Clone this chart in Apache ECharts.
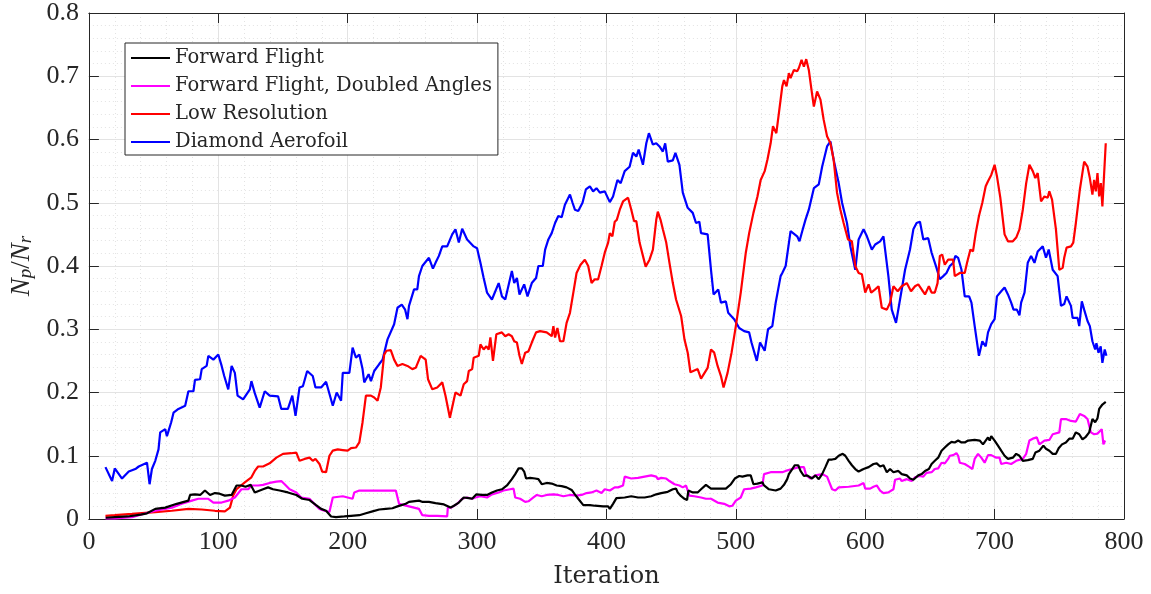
<!DOCTYPE html>
<html>
<head>
<meta charset="utf-8">
<script src="https://cdn.jsdelivr.net/npm/echarts@6/dist/echarts.min.js"></script>
<style>
  html, body { margin: 0; padding: 0; background: #ffffff; }
  #chart { width: 1151px; height: 594px; }
</style>
</head>
<body>
<div id="chart"></div>
<script>
// Axis ranges and ticks
const xTicks = [0, 100, 200, 300, 400, 500, 600, 700, 800];
const yTicks = [0, 0.1, 0.2, 0.3, 0.4, 0.5, 0.6, 0.7, 0.8];
const seriesNames = ['Forward Flight', 'Forward Flight, Doubled Angles', 'Low Resolution', 'Diamond Aerofoil'];

// [iteration, Np/Nr]
const forwardFlight = [[13,0.002],[20,0.003],[30,0.004],[40,0.007],[44.9,0.009],[51.3,0.016],[59,0.018],[67.9,0.024],[76.9,0.029],[78.2,0.038],[82,0.039],[86,0.038],[89.7,0.045],[93.6,0.038],[97.4,0.041],[101,0.040],[105.1,0.037],[110.3,0.038],[114.1,0.053],[117.9,0.053],[121,0.051],[125,0.054],[128.2,0.042],[134.6,0.047],[138.5,0.050],[142.3,0.047],[147.4,0.045],[153.8,0.042],[160.3,0.038],[164.9,0.032],[170.5,0.030],[175.6,0.022],[179.5,0.016],[183.3,0.013],[187.2,0.004],[191,0.003],[197.4,0.004],[202.6,0.005],[209,0.006],[214.1,0.009],[219.2,0.012],[224.4,0.015],[229.5,0.016],[234.6,0.017],[238.5,0.020],[244.9,0.024],[247.4,0.027],[255.1,0.029],[258,0.027],[262.8,0.027],[267.9,0.025],[274.4,0.023],[279.5,0.018],[282.1,0.021],[285.9,0.026],[289.7,0.034],[293.6,0.033],[296.2,0.032],[299.5,0.039],[303.8,0.038],[307.7,0.038],[311.5,0.042],[315.4,0.045],[319.2,0.047],[323.1,0.053],[326.9,0.063],[329.5,0.071],[332.1,0.080],[334.6,0.080],[336.4,0.075],[337.9,0.064],[341,0.065],[344.9,0.064],[347.4,0.063],[350,0.055],[353.8,0.057],[357.7,0.056],[361.5,0.053],[365.4,0.052],[369.2,0.050],[373.1,0.046],[375.6,0.039],[378.2,0.032],[382.1,0.022],[387.2,0.022],[391,0.021],[397.4,0.020],[401.3,0.020],[402.6,0.016],[405.1,0.024],[407.7,0.033],[409,0.032],[414.1,0.034],[419.2,0.036],[424.4,0.034],[429.5,0.034],[434.6,0.036],[438.5,0.039],[442.3,0.041],[447.4,0.043],[451.3,0.047],[453.8,0.048],[455.1,0.042],[457.7,0.036],[460.3,0.032],[462.3,0.030],[463.3,0.045],[466.7,0.042],[470.5,0.042],[473.1,0.047],[476.9,0.054],[480.8,0.048],[485.9,0.048],[492.3,0.048],[496.2,0.055],[499.2,0.064],[502.6,0.068],[505.1,0.067],[509,0.069],[511.5,0.069],[513.6,0.055],[516.7,0.056],[520.5,0.058],[521.8,0.053],[525.6,0.047],[530.8,0.045],[534.6,0.048],[537.2,0.054],[539.7,0.063],[541,0.071],[543.6,0.079],[545.6,0.085],[548.2,0.085],[550,0.076],[552.6,0.068],[555.1,0.069],[558.9,0.064],[561.5,0.069],[564.1,0.063],[566.7,0.071],[569.2,0.082],[571.8,0.094],[574.4,0.094],[576.9,0.095],[579.5,0.100],[582.6,0.103],[584.6,0.100],[587.2,0.092],[589.7,0.085],[592.3,0.079],[594.9,0.075],[598.7,0.079],[602.6,0.082],[606.4,0.087],[608.9,0.088],[611.5,0.083],[614.1,0.085],[616.7,0.074],[619.2,0.079],[621.8,0.074],[625.6,0.076],[628.2,0.071],[632.1,0.069],[634.6,0.064],[637.2,0.062],[641,0.069],[643.6,0.071],[646.2,0.076],[649.2,0.079],[651.3,0.087],[653.8,0.092],[656.4,0.097],[659,0.108],[661.5,0.113],[664.1,0.118],[666.7,0.122],[669.2,0.121],[671.8,0.124],[674.4,0.121],[676.9,0.121],[679.5,0.124],[684.6,0.125],[688.5,0.124],[691,0.118],[694.9,0.129],[696.2,0.124],[697.4,0.131],[700,0.124],[702.6,0.116],[705.1,0.108],[707.7,0.100],[710.3,0.095],[714.1,0.097],[716.7,0.103],[719.2,0.100],[721.8,0.092],[725.6,0.093],[729.5,0.095],[731.5,0.105],[734.6,0.108],[737.7,0.116],[739.7,0.111],[742.3,0.108],[744.9,0.103],[747.4,0.103],[749.5,0.112],[752.1,0.118],[755.1,0.121],[757.7,0.127],[760.3,0.127],[762.8,0.137],[765.4,0.134],[767.9,0.126],[770.5,0.130],[773.1,0.137],[775.6,0.158],[777.7,0.153],[779.5,0.159],[780.8,0.174],[783.3,0.181],[785.9,0.185]];

const doubledAngles = [[12.8,0.001],[20,0.001],[33.3,0.003],[42,0.008],[51.3,0.013],[64.1,0.018],[71.8,0.024],[79.5,0.029],[84.6,0.032],[92.3,0.032],[96.2,0.026],[102.6,0.026],[107.7,0.029],[112.8,0.034],[117.9,0.047],[123.1,0.047],[125.6,0.053],[130.8,0.053],[134.6,0.054],[139.7,0.057],[144.9,0.059],[148.7,0.060],[151.3,0.055],[155.1,0.047],[160.3,0.042],[164.1,0.034],[170.5,0.032],[175.6,0.021],[178.2,0.016],[182.1,0.013],[185.9,0.011],[188.5,0.034],[189.7,0.037],[196.2,0.036],[200,0.034],[203.8,0.032],[205.1,0.042],[209,0.045],[216.7,0.045],[224.4,0.045],[232.1,0.045],[237.2,0.045],[239.7,0.024],[247.4,0.020],[255.1,0.016],[257.7,0.006],[262.8,0.005],[269.2,0.005],[276.9,0.004],[277.4,0.018],[280,0.018],[284.6,0.024],[288.5,0.032],[292.3,0.034],[296.2,0.032],[298.7,0.034],[302.6,0.036],[307.7,0.034],[311.5,0.039],[316.7,0.042],[320.5,0.045],[325.6,0.047],[328.2,0.048],[329.5,0.034],[333.3,0.032],[337.2,0.027],[339.7,0.028],[343.6,0.034],[346.2,0.038],[350,0.036],[353.8,0.038],[359,0.039],[362.8,0.038],[366.7,0.036],[371.8,0.038],[376.9,0.037],[380.8,0.038],[384.6,0.041],[388.5,0.042],[392.3,0.045],[396.2,0.041],[398.7,0.047],[402.6,0.045],[406.4,0.050],[409,0.050],[412.8,0.053],[414.1,0.067],[419.2,0.064],[424.4,0.065],[429.5,0.067],[434.6,0.069],[438.5,0.067],[439.7,0.063],[442.3,0.065],[446.2,0.064],[448.7,0.060],[452.6,0.055],[456.4,0.053],[459,0.050],[461.5,0.053],[464.1,0.037],[467.9,0.036],[473.1,0.034],[476.9,0.032],[480.8,0.032],[485.9,0.026],[491,0.024],[494.9,0.020],[497.4,0.021],[500,0.029],[503.8,0.034],[506.4,0.047],[511.5,0.048],[515.4,0.050],[520.5,0.053],[521.8,0.071],[526.9,0.074],[532.1,0.074],[535.9,0.074],[538.5,0.076],[543.6,0.079],[548.7,0.082],[552.6,0.082],[554.4,0.069],[557.7,0.064],[561.5,0.069],[566.7,0.071],[570.5,0.067],[574.4,0.047],[576.9,0.045],[579.5,0.050],[587.2,0.051],[594.9,0.053],[598.7,0.057],[600,0.048],[603.8,0.048],[606.4,0.051],[608.9,0.053],[611.5,0.045],[614.1,0.041],[617.9,0.042],[621.8,0.047],[623.1,0.062],[626.9,0.064],[628.2,0.060],[632.1,0.063],[635.9,0.060],[638.5,0.066],[642.3,0.068],[644.9,0.067],[647.4,0.073],[651.3,0.074],[653.8,0.079],[656.4,0.080],[659,0.089],[661.5,0.088],[664.1,0.095],[665.4,0.100],[668,0.101],[670.5,0.104],[671.8,0.100],[673.1,0.089],[676.9,0.087],[680.8,0.082],[682.8,0.079],[684.6,0.095],[687.2,0.103],[689.7,0.097],[692.3,0.089],[694.9,0.101],[697.4,0.101],[701.3,0.097],[703.8,0.097],[705.1,0.087],[709,0.089],[712.8,0.087],[716.7,0.092],[721.8,0.095],[724.4,0.103],[726.9,0.124],[729.5,0.127],[732.6,0.129],[734.6,0.118],[738.5,0.124],[742.3,0.125],[744.9,0.134],[750,0.137],[751.3,0.158],[755.1,0.158],[759,0.155],[762.8,0.154],[765.9,0.166],[769.2,0.163],[771.8,0.158],[774.4,0.137],[776.9,0.134],[779.5,0.135],[780.8,0.133],[782.8,0.142],[784.1,0.118],[785.4,0.124]];

const lowResolution = [[12.8,0.005],[20,0.006],[33.3,0.008],[51.3,0.011],[64.1,0.013],[76.9,0.016],[87.2,0.015],[97.4,0.013],[105.1,0.012],[109,0.018],[111.5,0.037],[114.1,0.047],[120.5,0.058],[125.6,0.066],[128.2,0.076],[130.8,0.083],[134.6,0.083],[139.7,0.088],[144.9,0.097],[150,0.103],[156.4,0.104],[160.3,0.105],[162.8,0.092],[166.7,0.095],[170.5,0.097],[173,0.092],[175.1,0.095],[178.2,0.087],[180.3,0.075],[183.3,0.074],[185.9,0.100],[188.5,0.108],[192.3,0.110],[196.2,0.109],[200,0.108],[202.6,0.112],[206.4,0.113],[209,0.121],[211.5,0.153],[214.1,0.195],[218,0.195],[220.5,0.192],[223.1,0.187],[225.6,0.208],[228.2,0.260],[230,0.266],[233.3,0.267],[235.9,0.252],[238.5,0.242],[242.3,0.245],[246.2,0.242],[250,0.237],[252.6,0.239],[256.4,0.258],[260.3,0.252],[262.1,0.221],[265.4,0.205],[269.2,0.208],[273.1,0.216],[275.6,0.195],[279,0.160],[282.1,0.189],[283.3,0.200],[287.2,0.195],[289.7,0.213],[292.3,0.218],[293.6,0.234],[296.2,0.237],[297.4,0.255],[301.3,0.258],[302.6,0.276],[305.1,0.268],[307.2,0.273],[309,0.268],[310.3,0.287],[312.3,0.250],[314.9,0.292],[319.2,0.295],[321.8,0.289],[324.4,0.292],[326.9,0.289],[328.7,0.281],[330.8,0.279],[332.8,0.258],[334.6,0.245],[337.2,0.263],[339.7,0.265],[342.3,0.279],[345.6,0.295],[348.7,0.297],[353.8,0.295],[357.7,0.289],[359,0.305],[360.3,0.287],[362.1,0.302],[364.1,0.281],[366.7,0.281],[369.2,0.310],[371.8,0.326],[374.4,0.358],[376.9,0.389],[380,0.402],[383.3,0.410],[385.9,0.400],[388.5,0.373],[391,0.379],[393.6,0.379],[396.2,0.400],[398.7,0.421],[401.3,0.437],[402.6,0.452],[404.6,0.447],[406.4,0.470],[408,0.473],[410.3,0.489],[412.8,0.502],[416.7,0.508],[419.2,0.489],[421.3,0.471],[423.1,0.471],[425.6,0.437],[428.2,0.416],[430.3,0.399],[433.3,0.410],[435.9,0.426],[438.5,0.473],[439.7,0.486],[441.8,0.473],[443.6,0.458],[446.2,0.437],[448.7,0.405],[451.3,0.373],[453.8,0.347],[457.7,0.321],[460.3,0.284],[462.8,0.263],[464.9,0.232],[470.5,0.237],[473.1,0.222],[478.2,0.239],[480.8,0.268],[483.3,0.263],[485.9,0.242],[488.5,0.226],[490.5,0.208],[493.6,0.231],[496.7,0.263],[500,0.305],[503.8,0.358],[507.7,0.421],[510.3,0.452],[513.6,0.484],[516.7,0.510],[519.2,0.536],[522.3,0.550],[524.4,0.568],[526.9,0.594],[528.7,0.621],[531.3,0.610],[533.3,0.642],[535.9,0.684],[537.2,0.694],[539.2,0.684],[541,0.705],[542.3,0.697],[544.9,0.710],[547.4,0.708],[548.7,0.713],[550.8,0.726],[552.6,0.715],[554.4,0.727],[556.4,0.710],[558.5,0.678],[560.3,0.652],[562.8,0.676],[565.4,0.663],[567.9,0.631],[570.5,0.605],[573.1,0.594],[575.6,0.568],[578.2,0.516],[580.8,0.489],[583.3,0.468],[586.7,0.442],[589.7,0.439],[592.3,0.400],[594.9,0.389],[597.4,0.387],[600,0.358],[602.6,0.371],[604.6,0.358],[607.7,0.363],[610.3,0.368],[612.8,0.334],[616.7,0.331],[619.2,0.342],[621.8,0.368],[625.1,0.360],[628.2,0.368],[632.1,0.373],[635.4,0.360],[638.5,0.368],[641,0.371],[643.6,0.363],[646.2,0.355],[649.2,0.368],[651.3,0.358],[653.8,0.358],[655.9,0.373],[657.7,0.416],[659.5,0.418],[661.5,0.402],[664.1,0.410],[667.9,0.410],[669.2,0.384],[673.1,0.389],[676.9,0.389],[678.7,0.405],[681.3,0.426],[683.3,0.423],[685.4,0.452],[687.9,0.479],[690.5,0.500],[693.1,0.526],[694.9,0.534],[697.4,0.544],[700,0.560],[701.8,0.542],[704.4,0.508],[707.7,0.450],[710.3,0.439],[714.1,0.439],[716.7,0.445],[719.2,0.458],[721.8,0.489],[724.4,0.531],[726.9,0.560],[729.5,0.550],[731.5,0.539],[733.3,0.547],[735.9,0.502],[738.5,0.510],[741,0.508],[742.3,0.518],[744.4,0.505],[747.4,0.458],[750,0.394],[752.6,0.397],[753.8,0.413],[755.6,0.429],[759,0.431],[760.8,0.437],[762.8,0.468],[765.9,0.521],[769.2,0.565],[771.8,0.557],[773.6,0.539],[775.6,0.513],[776.9,0.536],[778.2,0.518],[779.5,0.547],[780.8,0.510],[782.1,0.531],[783.3,0.494],[785.9,0.594]];

const diamondAerofoil = [[12.8,0.082],[17.9,0.060],[20,0.080],[25.6,0.064],[30.8,0.075],[35.9,0.079],[38.5,0.083],[44.9,0.089],[46.2,0.088],[46.9,0.055],[48.7,0.079],[51.3,0.092],[53.8,0.110],[55.1,0.137],[59,0.142],[60.3,0.131],[61.5,0.139],[63.6,0.153],[65.4,0.168],[69.2,0.174],[74.4,0.179],[76.9,0.202],[80.8,0.202],[82,0.220],[85.9,0.221],[87.2,0.237],[91,0.242],[92.3,0.258],[96.2,0.252],[100,0.260],[101.3,0.260],[102.6,0.242],[104.6,0.226],[107.7,0.205],[110.3,0.242],[112.8,0.231],[114.9,0.195],[119.2,0.189],[124.4,0.205],[125.6,0.218],[128.2,0.199],[132,0.176],[135.9,0.202],[139.7,0.195],[146.2,0.194],[148.7,0.174],[153.8,0.174],[157.2,0.195],[159.7,0.163],[162.8,0.208],[165.4,0.210],[168.7,0.234],[173,0.226],[175.1,0.208],[179.5,0.208],[183.3,0.217],[188.5,0.179],[191.5,0.200],[194.9,0.187],[196.2,0.231],[201.3,0.231],[203.8,0.271],[206.4,0.255],[209,0.260],[211.5,0.237],[212.8,0.216],[216.2,0.229],[218,0.218],[220.5,0.234],[224.4,0.245],[227,0.252],[230.8,0.284],[235.9,0.308],[238.5,0.334],[241.8,0.339],[244.4,0.331],[246.2,0.316],[247.4,0.337],[251.3,0.363],[253.8,0.363],[255.1,0.384],[257.7,0.400],[262.8,0.413],[265.9,0.396],[267.9,0.405],[270.5,0.416],[273.1,0.431],[276.9,0.431],[280.8,0.450],[283.3,0.458],[285.9,0.437],[288.5,0.459],[292.3,0.442],[297.4,0.431],[300,0.428],[302.6,0.405],[305.1,0.381],[307.7,0.358],[311.5,0.347],[316.7,0.373],[319.2,0.352],[321.8,0.347],[326.9,0.392],[328.7,0.373],[330.8,0.381],[332.8,0.355],[336.4,0.371],[339,0.352],[342.3,0.373],[345.6,0.381],[347.4,0.400],[350.8,0.400],[352.6,0.426],[355.1,0.442],[357.7,0.452],[360.3,0.468],[362.8,0.479],[365.4,0.477],[367.9,0.497],[371.8,0.513],[373.8,0.500],[375.6,0.489],[378.2,0.487],[381.5,0.500],[384.1,0.521],[387.2,0.526],[389.7,0.518],[392.3,0.523],[394.9,0.516],[398.7,0.518],[402.6,0.501],[405.1,0.510],[408.5,0.536],[411,0.531],[414.1,0.550],[417.9,0.557],[420.5,0.579],[423.1,0.573],[424.9,0.584],[428.2,0.560],[430.8,0.594],[432.8,0.610],[435.9,0.592],[438.5,0.594],[441,0.589],[443.6,0.581],[445.4,0.594],[447.4,0.565],[451.3,0.567],[453.3,0.579],[456.4,0.560],[459,0.516],[462.8,0.492],[466.7,0.484],[469.2,0.468],[471.8,0.470],[473.1,0.452],[478.2,0.450],[480.8,0.394],[482.8,0.355],[486.4,0.363],[488.5,0.342],[492.3,0.344],[494.1,0.326],[498.7,0.316],[502.6,0.302],[506.4,0.297],[510.3,0.295],[512.1,0.279],[513.6,0.280],[516.2,0.250],[518.7,0.279],[522.3,0.266],[524.9,0.300],[528.2,0.305],[530.8,0.342],[534.6,0.384],[535.9,0.389],[538.5,0.400],[542.3,0.455],[547.4,0.447],[549.2,0.439],[551.3,0.455],[553.8,0.473],[556.4,0.489],[560.3,0.523],[564.1,0.529],[566.7,0.557],[570.5,0.589],[573.1,0.597],[575.6,0.568],[579.5,0.531],[582.1,0.500],[585.9,0.468],[588.5,0.431],[592.3,0.394],[594.9,0.442],[598.7,0.458],[601.3,0.447],[605.1,0.426],[607.7,0.434],[611.5,0.439],[614.1,0.447],[617.9,0.384],[620.5,0.331],[623.8,0.310],[626.9,0.347],[630.8,0.394],[634.6,0.426],[637.2,0.458],[639.7,0.468],[642.3,0.470],[644.9,0.442],[648.7,0.444],[651.3,0.421],[655.1,0.397],[657.7,0.379],[660.3,0.384],[662.8,0.389],[665.4,0.400],[668,0.405],[669.7,0.416],[671.8,0.413],[674.4,0.394],[676.9,0.352],[680.3,0.352],[682.1,0.342],[684.6,0.305],[687.9,0.258],[690.5,0.281],[693.1,0.273],[694.9,0.295],[697.4,0.308],[700,0.316],[701.8,0.352],[705.1,0.360],[707.7,0.366],[710.3,0.355],[712.8,0.342],[714.6,0.331],[717.2,0.331],[719.2,0.322],[720.5,0.342],[723.1,0.358],[725.6,0.405],[728.2,0.416],[730.8,0.405],[733.3,0.423],[737.2,0.431],[739.7,0.413],[741.8,0.426],[744.9,0.394],[748.7,0.384],[751.3,0.337],[753.8,0.340],[755.6,0.352],[759,0.337],[760.3,0.318],[764.1,0.318],[765.4,0.305],[767.4,0.344],[769.2,0.331],[771.8,0.313],[773.6,0.305],[775.6,0.281],[777.7,0.268],[778.7,0.278],[780.3,0.263],[782,0.273],[783.3,0.247],[785.1,0.268],[786.4,0.258]];

const seriesData = [forwardFlight, doubledAngles, lowResolution, diamondAerofoil];
const seriesColors = ['#000000', '#ff00ff', '#ff0000', '#0000ff'];
const seriesZ = [5, 4, 3, 2];

const serif = "'Liberation Serif', 'DejaVu Serif', serif";
const wideSerif = "'DejaVu Serif', 'Liberation Serif', serif";
const ink = '#262626';

const chart = echarts.init(document.getElementById('chart'), null, { renderer: 'canvas' });

function valueAxis(dim, idx, extra) {
  const ticks = dim === 'x' ? xTicks : yTicks;
  const base = {
    type: 'value',
    min: ticks[0],
    max: ticks[ticks.length - 1],
    interval: ticks[1] - ticks[0],
    axisLine: { show: true, onZero: false, lineStyle: { color: ink, width: 1 } },
    axisTick: { show: true, inside: true, length: 10, lineStyle: { color: ink, width: 1 } },
    minorTick: { show: false, splitNumber: 5 },
    splitLine: { show: idx === 0, lineStyle: { color: '#e3e3e3', width: 1 } },
    minorSplitLine: { show: idx === 0, lineStyle: { color: '#e3e3e3', width: 1, type: [1, 3] } },
    axisLabel: { show: idx === 0 }
  };
  return Object.assign(base, extra);
}

const option = {
  backgroundColor: '#ffffff',
  animation: false,
  grid: { left: 85, right: 27, top: 13, bottom: 74, containLabel: false },
  xAxis: [
    valueAxis('x', 0, {
      position: 'bottom',
      axisLabel: { show: true, color: ink, fontFamily: serif, fontSize: 26, margin: 10 },
      name: 'Iteration',
      nameLocation: 'middle',
      nameGap: 46,
      nameTextStyle: { color: ink, fontFamily: wideSerif, fontSize: 24 }
    }),
    valueAxis('x', 1, { position: 'top' })
  ],
  yAxis: [
    valueAxis('y', 0, {
      position: 'left',
      axisLabel: {
        show: true, color: ink, fontFamily: serif, fontSize: 26, margin: 10,
        formatter: v => String(Math.round(v * 10) / 10)
      },
      name: '{n|N}{s|p}{d|/}{n|N}{s|r}',
      nameLocation: 'middle',
      nameRotate: 90,
      nameGap: 48,
      nameTextStyle: {
        color: ink,
        rich: {
          n: { fontFamily: serif, fontStyle: 'italic', fontSize: 27, color: ink, lineHeight: 28 },
          d: { fontFamily: serif, fontSize: 27, color: ink, lineHeight: 28 },
          s: { fontFamily: serif, fontStyle: 'italic', fontSize: 19, color: ink, lineHeight: 12, verticalAlign: 'bottom' }
        }
      }
    }),
    valueAxis('y', 1, { position: 'right' })
  ],
  legend: {
    show: true,
    orient: 'vertical',
    left: 125,
    top: 43,
    data: seriesNames.map((n, i) => ({ name: n, icon: 'rect', itemStyle: { color: seriesColors[i] } })),
    backgroundColor: '#ffffff',
    borderColor: ink,
    borderWidth: 1,
    borderRadius: 0,
    padding: [5, 6, 3, 6],
    itemGap: 8,
    itemWidth: 39,
    itemHeight: 2,
    textStyle: { color: ink, fontFamily: wideSerif, fontSize: 19.5, lineHeight: 20, padding: [0, 0, 0, 0] }
  },
  series: seriesNames.map((name, i) => ({
    name: name,
    type: 'line',
    xAxisIndex: 0,
    yAxisIndex: 0,
    data: seriesData[i],
    symbol: 'none',
    showSymbol: false,
    smooth: false,
    z: seriesZ[i],
    lineStyle: { color: seriesColors[i], width: 2.2 },
    itemStyle: { color: seriesColors[i] }
  }))
};

chart.setOption(option);
</script>
</body>
</html>
